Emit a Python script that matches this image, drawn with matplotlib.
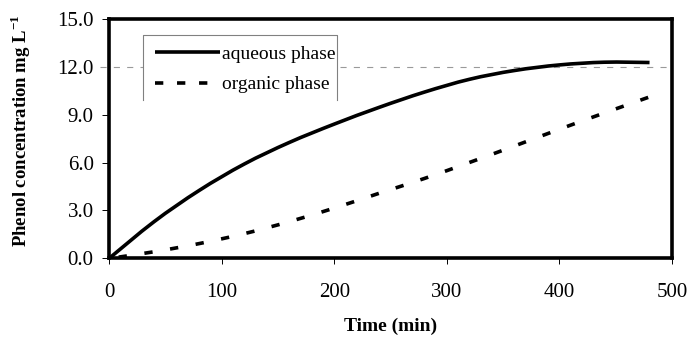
import matplotlib
matplotlib.use("Agg")
import matplotlib.pyplot as plt
from matplotlib.patches import Rectangle, PathPatch
from matplotlib.lines import Line2D
from matplotlib.path import Path

# Phenol concentration in each phase over time
time_aq = [0, 40, 80, 120, 160, 200, 240, 280, 320, 360, 400, 440, 480]
conc_aq = [0.0, 2.3, 4.25, 5.9, 7.25, 8.4, 9.45, 10.4, 11.2, 11.75, 12.1, 12.27, 12.25]

time_org = [0, 40, 80, 120, 160, 200, 240, 280, 320, 360, 400, 440, 480]
conc_org = [0.0, 0.42, 0.93, 1.55, 2.3, 3.15, 4.08, 5.0, 6.0, 7.03, 8.08, 9.1, 10.1]

x_ticks = [0, 100, 200, 300, 400, 500]
y_ticks = [0.0, 3.0, 6.0, 9.0, 12.0, 15.0]
ref_level = 12.0
series_labels = ["aqueous phase", "organic phase"]


def smooth_path(xs, ys):
    """Smoothed line through the points (Catmull-Rom as cubic Bezier segments)."""
    pts = list(zip(xs, ys))
    verts = [pts[0]]
    codes = [Path.MOVETO]
    n = len(pts)
    for i in range(n - 1):
        p0 = pts[max(i - 1, 0)]
        p1 = pts[i]
        p2 = pts[i + 1]
        p3 = pts[min(i + 2, n - 1)]
        c1 = (p1[0] + (p2[0] - p0[0]) / 6.0, p1[1] + (p2[1] - p0[1]) / 6.0)
        c2 = (p2[0] - (p3[0] - p1[0]) / 6.0, p2[1] - (p3[1] - p1[1]) / 6.0)
        verts += [c1, c2, p2]
        codes += [Path.CURVE4] * 3
    return Path(verts, codes)


plt.rcParams["font.family"] = ["Liberation Serif", "DejaVu Serif"]
plt.rcParams["mathtext.fontset"] = "custom"
plt.rcParams["mathtext.rm"] = "Liberation Serif"
plt.rcParams["mathtext.bf"] = "Liberation Serif:bold"

fig = plt.figure(figsize=(6.9, 3.37), dpi=100)
ax = fig.add_axes([0.158, 0.233, 0.816, 0.712])

ax.set_xlim(0, 500)
ax.set_ylim(0, 15)

# reference level line, extending slightly past the left spine
ax.axhline(ref_level, xmin=-0.016, xmax=1.0, color="#9a9a9a", lw=0.8,
           linestyle=(0, (5.5, 6.5)), clip_on=False, zorder=1)

ax.add_patch(PathPatch(smooth_path(time_aq, conc_aq), fill=False, edgecolor="black",
                       lw=2.6, capstyle="butt", joinstyle="round", zorder=3))
ax.add_patch(PathPatch(smooth_path(time_org, conc_org), fill=False, edgecolor="black",
                       lw=2.6, linestyle=(4.5, (2.3, 4.9)), capstyle="butt", zorder=3))

for s in ax.spines.values():
    s.set_linewidth(2.6)
    s.set_color("black")
    s.set_zorder(4)

ax.set_xticks(x_ticks)
ax.set_yticks(y_ticks)
ax.set_yticklabels([f"{v:.1f}" for v in y_ticks])
ax.tick_params(axis="both", direction="out", width=0.7, color="black", labelsize=15)
ax.tick_params(axis="y", length=5, pad=6)
ax.tick_params(axis="x", length=4, pad=14)
for t, v in zip(ax.yaxis.get_major_ticks(), y_ticks):
    if v == ref_level:
        t.tick1line.set_visible(False)

fig.text(0.5 * (0.158 + 0.974), 1 - 326 / 337, "Time (min)", fontsize=14,
         fontweight="bold", ha="center", va="center")
fig.text(21 / 690, 1 - 131 / 337, r"Phenol concentration mg L$^{\mathbf{-1}}$", fontsize=13.5,
         fontweight="bold", rotation=90, ha="center", va="center")

# legend panel: white box with a thin grey outline open at the bottom
x0, x1, y0, y1 = 0.0604, 0.405, 0.660, 0.931
ax.add_patch(Rectangle((x0, y0), x1 - x0, y1 - y0, transform=ax.transAxes,
                       facecolor="white", edgecolor="none", zorder=5))
ax.add_line(Line2D([x0, x0, x1, x1], [y0, y1, y1, y0], transform=ax.transAxes,
                   color="#808080", lw=0.8, zorder=6))
h1 = Line2D([], [], color="black", lw=2.6, solid_capstyle="butt")
h2 = Line2D([], [], color="black", lw=2.6, linestyle=(0, (2.3, 3.8)), dash_capstyle="butt")
leg = ax.legend([h1, h2], series_labels, loc="upper left", bbox_to_anchor=(0.0817, 0.888),
                frameon=False, fontsize=14, handlelength=3.35, handletextpad=0.12,
                labelspacing=0.66, borderpad=0, borderaxespad=0)
leg.set_zorder(7)

fig.savefig("out.png", dpi=100)
